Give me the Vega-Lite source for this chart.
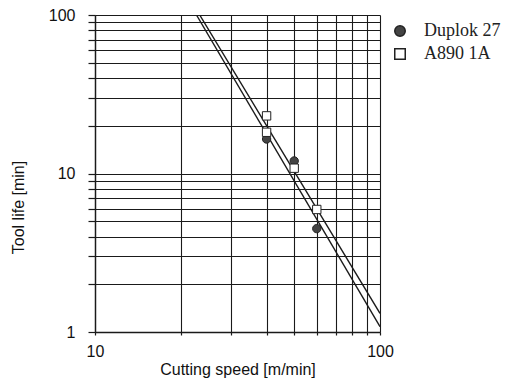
{
  "$schema": "https://vega.github.io/schema/vega-lite/v6.json",
  "autosize": "none",
  "width": 285,
  "height": 317,
  "padding": {"left": 95, "top": 15, "right": 129, "bottom": 50},
  "background": "white",
  "datasets": {
    "fits": [
      {"series": "Duplok 27", "speed": 22.7, "life": 100},
      {"series": "Duplok 27", "speed": 100, "life": 1.08},
      {"series": "A890 1A", "speed": 23.3, "life": 100},
      {"series": "A890 1A", "speed": 100, "life": 1.31}
    ],
    "points": [
      {"series": "Duplok 27", "speed": 40, "life": 16.5},
      {"series": "Duplok 27", "speed": 50, "life": 12.0},
      {"series": "Duplok 27", "speed": 60, "life": 4.49},
      {"series": "A890 1A", "speed": 40, "life": 23.1},
      {"series": "A890 1A", "speed": 40, "life": 18.2},
      {"series": "A890 1A", "speed": 50, "life": 10.8},
      {"series": "A890 1A", "speed": 60, "life": 5.93}
    ]
  },
  "encoding": {
    "x": {
      "field": "speed", "type": "quantitative",
      "scale": {"type": "log", "domain": [10, 100], "nice": false},
      "axis": {
        "title": "Cutting speed [m/min]",
        "values": [10, 20, 30, 40, 50, 60, 70, 80, 90, 100],
        "format": "d",
        "labelExpr": "datum.value == 10 || datum.value == 100 ? datum.label : ''",
        "labelOverlap": false,
        "labelFlush": false,
        "tickSize": 3,
        "labelPadding": 8,
        "titleY": 42,
        "titleBaseline": "alphabetic"
      }
    },
    "y": {
      "field": "life", "type": "quantitative",
      "scale": {"type": "log", "domain": [1, 100], "nice": false},
      "axis": {
        "title": "Tool life [min]",
        "values": [1, 2, 3, 4, 5, 6, 7, 8, 9, 10, 20, 30, 40, 50, 60, 70, 80, 90, 100],
        "format": "d",
        "labelExpr": "datum.value == 1 || datum.value == 10 || datum.value == 100 ? datum.label : ''",
        "labelOverlap": false,
        "tickSize": 7,
        "labelPadding": 13,
        "titleX": -72,
        "titleY": 192,
        "titleAlign": "center",
        "titleBaseline": "alphabetic",
        "titleAngle": -90
      }
    }
  },
  "layer": [
    {
      "data": {"name": "fits"},
      "mark": {"type": "line", "color": "#1a1a1a", "strokeWidth": 1.4, "clip": true},
      "encoding": {"detail": {"field": "series"}}
    },
    {
      "data": {"name": "points"},
      "mark": {"type": "point", "filled": true, "stroke": "#222222", "strokeWidth": 1, "opacity": 1, "size": 70},
      "encoding": {
        "shape": {
          "field": "series", "type": "nominal", "title": null,
          "scale": {"domain": ["Duplok 27", "A890 1A"], "range": ["circle", "square"]},
          "legend": {"encode": {"symbols": {"update": {"stroke": {"value": "#222222"}, "strokeWidth": {"value": 1}}}}}
        },
        "fill": {
          "field": "series", "type": "nominal", "title": null,
          "scale": {"domain": ["Duplok 27", "A890 1A"], "range": ["#444444", "#ffffff"]},
          "legend": {"encode": {"symbols": {"update": {"stroke": {"value": "#222222"}, "strokeWidth": {"value": 1}}}}}
        }
      }
    }
  ],
  "config": {
    "view": {"stroke": null},
    "font": "Liberation Sans",
    "axis": {
      "labelFont": "Liberation Sans",
      "titleFont": "Liberation Sans",
      "labelFontSize": 16,
      "titleFontSize": 16,
      "titleFontWeight": "normal",
      "labelColor": "#111111",
      "titleColor": "#111111",
      "domainColor": "#1a1a1a",
      "domainWidth": 1.4,
      "tickColor": "#1a1a1a",
      "tickWidth": 1.2,
      "grid": true,
      "gridColor": "#1a1a1a",
      "gridWidth": 1.1,
      "gridOpacity": 1
    },
    "legend": {
      "orient": "none",
      "legendX": 296,
      "legendY": 7,
      "labelFont": "Liberation Serif",
      "labelFontSize": 18,
      "labelColor": "#222222",
      "labelOffset": 15,
      "symbolSize": 110,
      "rowPadding": 5,
      "padding": 0
    }
  }
}
